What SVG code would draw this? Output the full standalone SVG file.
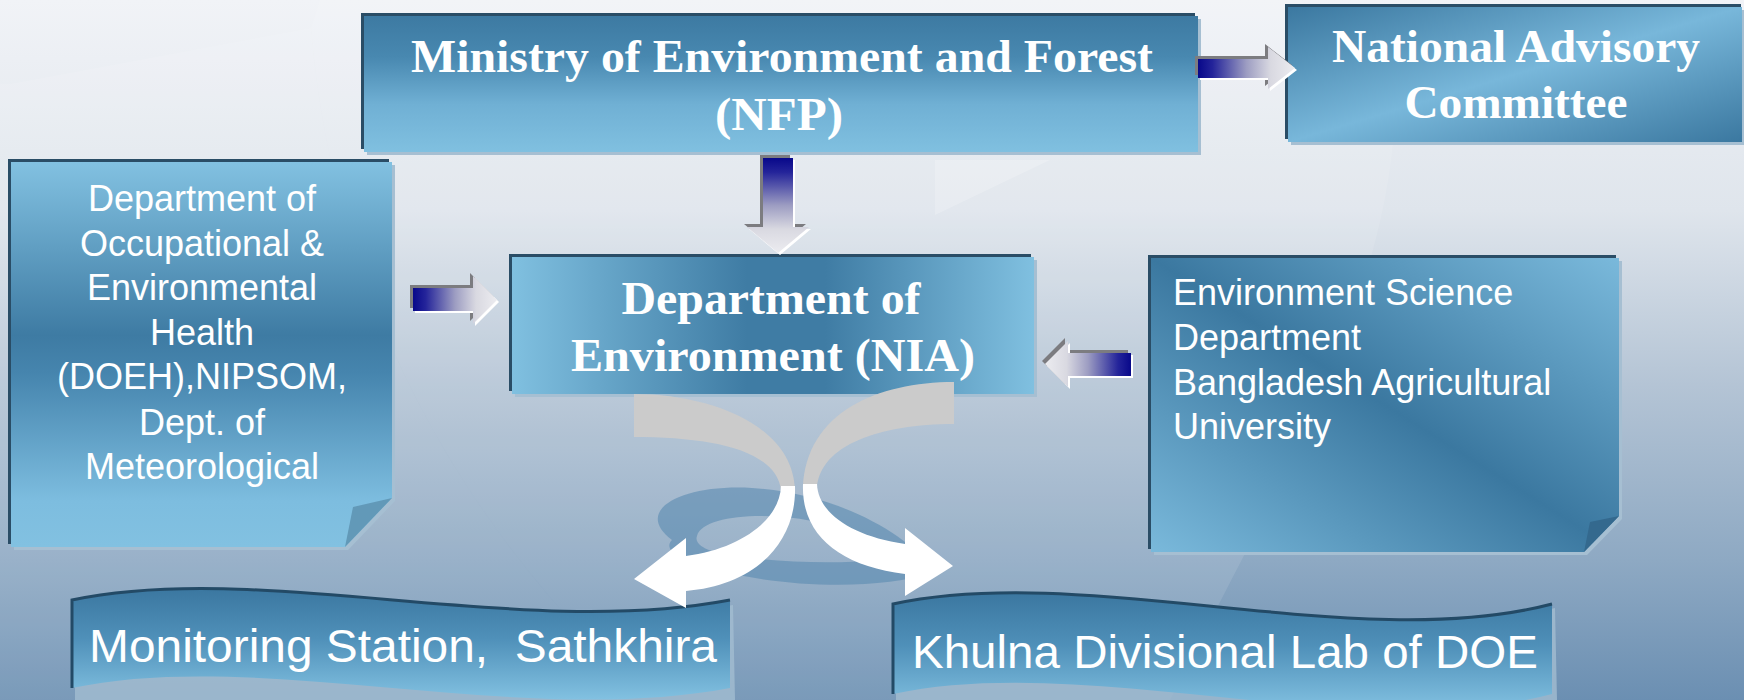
<svg xmlns="http://www.w3.org/2000/svg" width="1744" height="700" viewBox="0 0 1744 700">
<defs>
<style>
.serif{font-family:"Liberation Serif","Times New Roman",serif;font-weight:bold;font-size:46px;fill:#ffffff;text-anchor:middle}
.sans{font-family:"Liberation Sans",Arial,sans-serif;font-size:36px;fill:#ffffff}
.mid{text-anchor:middle}
.big{font-size:47px;white-space:pre}
.shD{fill:#2a4d66}
.shL{fill:#a6bfd2}
.arrD{fill:#7c7c80}
.arrL{fill:#ffffff}
.curveBack{fill:#cbcbcb}
.curveFront{fill:#ffffff}
</style>
<linearGradient id="bg" x1="0" y1="0" x2="0" y2="1">
<stop offset="0" stop-color="#f1f3f7"/>
<stop offset="0.3" stop-color="#dfe5ec"/>
<stop offset="0.55" stop-color="#b4c4d5"/>
<stop offset="0.8" stop-color="#8ea9c3"/>
<stop offset="1" stop-color="#6b8fb2"/>
</linearGradient>
<linearGradient id="gMin" x1="0" y1="0" x2="0" y2="1">
<stop offset="0" stop-color="#3d7aa2"/>
<stop offset="0.3" stop-color="#4888b0"/>
<stop offset="0.65" stop-color="#70b0d4"/>
<stop offset="1" stop-color="#80c0e0"/>
</linearGradient>
<linearGradient id="gNia" x1="0" y1="0" x2="1" y2="0">
<stop offset="0" stop-color="#80c0e0"/>
<stop offset="0.45" stop-color="#3f7ca4"/>
<stop offset="0.6" stop-color="#3f7ca4"/>
<stop offset="1" stop-color="#80c0e0"/>
</linearGradient>
<linearGradient id="gDoeh" x1="0" y1="0" x2="0" y2="1">
<stop offset="0" stop-color="#82c1e1"/>
<stop offset="0.45" stop-color="#3e7ba3"/>
<stop offset="0.55" stop-color="#4685ae"/>
<stop offset="0.88" stop-color="#7dbddf"/>
<stop offset="1" stop-color="#82c1e1"/>
</linearGradient>
<linearGradient id="gNat" x1="0" y1="0" x2="1" y2="1">
<stop offset="0" stop-color="#3b78a0"/>
<stop offset="0.5" stop-color="#78b7da"/>
<stop offset="1" stop-color="#3b78a0"/>
</linearGradient>
<linearGradient id="gEnv" x1="1" y1="0" x2="0" y2="1">
<stop offset="0" stop-color="#7ab9db"/>
<stop offset="0.5" stop-color="#3b78a0"/>
<stop offset="1" stop-color="#7ab9db"/>
</linearGradient>
<linearGradient id="gBan" x1="0" y1="0" x2="0" y2="1">
<stop offset="0" stop-color="#3b77a0"/>
<stop offset="0.45" stop-color="#4f90b9"/>
<stop offset="1" stop-color="#82c1e1"/>
</linearGradient>
<linearGradient id="aR" x1="0" y1="0" x2="1" y2="0">
<stop offset="0" stop-color="#08088a"/>
<stop offset="0.15" stop-color="#24249a"/>
<stop offset="0.5" stop-color="#9d9dc2"/>
<stop offset="0.75" stop-color="#d9d9e1"/>
<stop offset="1" stop-color="#ececf0"/>
</linearGradient>
<linearGradient id="aL" x1="1" y1="0" x2="0" y2="0">
<stop offset="0" stop-color="#08088a"/>
<stop offset="0.15" stop-color="#24249a"/>
<stop offset="0.5" stop-color="#9d9dc2"/>
<stop offset="0.75" stop-color="#d9d9e1"/>
<stop offset="1" stop-color="#ececf0"/>
</linearGradient>
<linearGradient id="aD" x1="0" y1="0" x2="0" y2="1">
<stop offset="0" stop-color="#08088a"/>
<stop offset="0.15" stop-color="#24249a"/>
<stop offset="0.5" stop-color="#9d9dc2"/>
<stop offset="0.75" stop-color="#d9d9e1"/>
<stop offset="1" stop-color="#ececf0"/>
</linearGradient>
</defs>

<g id="background">
<rect x="0" y="0" width="1744" height="700" fill="url(#bg)"/>
<path d="M10,84 L311,28 C330,260 430,500 650,700 L0,700 L0,84 Z" fill="#ffffff" opacity="0.1"/>
<path d="M311,28 C330,260 430,500 650,700 L1170,700 C1270,500 1390,300 1395,110 C1380,80 1340,40 1300,0 L320,0 Z" fill="#ffffff" opacity="0.1"/>
<path d="M935,160 L1050,160 L935,215 Z" fill="#ffffff" opacity="0.2"/>
<path d="M672,540 C632,510 682,484 752,488 C832,493 905,530 935,572 C875,592 780,586 720,571 C680,561 662,550 672,540 Z M697,536 C702,516 762,511 812,521 C852,531 878,550 878,560 C828,565 770,561 730,556 C705,551 694,544 697,536 Z" fill="#5a8ab0" fill-rule="evenodd" opacity="0.6"/>
</g>

<g id="node-ministry">
<rect x="361" y="13" width="834" height="136" class="shD"/>
<rect x="367" y="19" width="834" height="136" class="shL"/>
<rect x="364" y="16" width="834" height="136" fill="url(#gMin)"/>
<text class="serif" x="782" y="72" textLength="742" lengthAdjust="spacingAndGlyphs">Ministry of Environment and Forest</text>
<text class="serif" x="779" y="130" textLength="128" lengthAdjust="spacingAndGlyphs">(NFP)</text>
</g>

<g id="node-national">
<rect x="1285" y="4" width="456" height="135" class="shD"/>
<rect x="1291" y="10" width="456" height="135" class="shL"/>
<rect x="1288" y="7" width="454" height="135" fill="url(#gNat)"/>
<text class="serif" x="1516" y="62" textLength="368" lengthAdjust="spacingAndGlyphs">National Advisory</text>
<text class="serif" x="1516" y="118" textLength="223" lengthAdjust="spacingAndGlyphs">Committee</text>
</g>

<g id="node-doeh">
<polygon points="8,159 389,159 389,495 342,544 8,544" class="shD"/>
<polygon points="14,165 395,165 395,501 348,550 14,550" class="shL"/>
<polygon points="11,162 392,162 392,498 345,547 11,547" fill="url(#gDoeh)"/>
<polygon points="392,498 353,507 345,547" fill="#6299b8"/>
<text class="sans mid" x="202" y="211">Department of</text>
<text class="sans mid" x="202" y="256">Occupational &amp;</text>
<text class="sans mid" x="202" y="300">Environmental</text>
<text class="sans mid" x="202" y="345">Health</text>
<text class="sans mid" x="202" y="389">(DOEH),NIPSOM,</text>
<text class="sans mid" x="202" y="435">Dept. of</text>
<text class="sans mid" x="202" y="479">Meteorological</text>
</g>

<g id="node-nia">
<rect x="509" y="254" width="522" height="137" class="shD"/>
<rect x="515" y="260" width="522" height="137" class="shL"/>
<rect x="512" y="257" width="522" height="137" fill="url(#gNia)"/>
<text class="serif" x="771" y="314" textLength="299" lengthAdjust="spacingAndGlyphs">Department of</text>
<text class="serif" x="773" y="371" textLength="404" lengthAdjust="spacingAndGlyphs">Environment (NIA)</text>
</g>

<g id="node-envsci">
<polygon points="1148,255 1616,255 1616,513 1581,549 1148,549" class="shD"/>
<polygon points="1154,261 1622,261 1622,519 1587,555 1154,555" class="shL"/>
<polygon points="1151,258 1619,258 1619,516 1584,552 1151,552" fill="url(#gEnv)"/>
<polygon points="1619,516 1590,522 1584,552" fill="#34698e"/>
<text class="sans" x="1173" y="305">Environment Science</text>
<text class="sans" x="1173" y="350">Department</text>
<text class="sans" x="1173" y="395">Bangladesh Agricultural</text>
<text class="sans" x="1173" y="439">University</text>
</g>

<g id="node-monitoring">
<path d="M75,605 C263,565 523,645 733,605 L735,700 L75,700 Z" fill="#a3bdd1" opacity="0.8"/>
<path d="M72,600 C260,560 520,640 730,600 L730,688 C520,728 260,648 72,688 Z" fill="url(#gBan)"/>
<path d="M72,688 L72,600 C260,560 520,640 730,600" fill="none" stroke="#234a66" stroke-width="3"/>
<text class="sans big" x="89" y="662" textLength="628" lengthAdjust="spacingAndGlyphs" xml:space="preserve">Monitoring Station,  Sathkhira</text>
</g>

<g id="node-khulna">
<path d="M896,608 C1091,566 1361,659 1555,608 L1557,700 L896,700 Z" fill="#a3bdd1" opacity="0.8"/>
<path d="M893,604 C1088,562 1358,655 1552,604 L1552,694 C1358,745 1088,652 893,694 Z" fill="url(#gBan)"/>
<path d="M893,694 L893,604 C1088,562 1358,655 1552,604" fill="none" stroke="#234a66" stroke-width="3"/>
<text class="sans big" x="912" y="668" textLength="626" lengthAdjust="spacingAndGlyphs">Khulna Divisional Lab of DOE</text>
</g>

<g id="connectors">
<g id="arrow-ministry-national">
<polygon transform="translate(-3,-3)" class="arrD" points="1198,59 1268,59 1268,47 1295,68 1268,89 1268,78 1198,78"/>
<polygon transform="translate(2,2)" class="arrL" points="1198,59 1268,59 1268,47 1295,68 1268,89 1268,78 1198,78"/>
<polygon fill="url(#aR)" points="1198,59 1268,59 1268,47 1295,68 1268,89 1268,78 1198,78"/>
</g>
<g id="arrow-ministry-nia">
<polygon transform="translate(-3,-3)" class="arrD" points="763,158 793,158 793,227 809,227 778,253 747,227 763,227"/>
<polygon transform="translate(2,2)" class="arrL" points="763,158 793,158 793,227 809,227 778,253 747,227 763,227"/>
<polygon fill="url(#aD)" points="763,158 793,158 793,227 809,227 778,253 747,227 763,227"/>
</g>
<g id="arrow-doeh-nia">
<polygon transform="translate(-3,-3)" class="arrD" points="413,288 473,288 473,276 497,300 473,324 473,311 413,311"/>
<polygon transform="translate(2,2)" class="arrL" points="413,288 473,288 473,276 497,300 473,324 473,311 413,311"/>
<polygon fill="url(#aR)" points="413,288 473,288 473,276 497,300 473,324 473,311 413,311"/>
</g>
<g id="arrow-envsci-nia">
<polygon transform="translate(-3,-3)" class="arrD" points="1131,353 1068,353 1068,341 1045,364 1068,387 1068,376 1131,376"/>
<polygon transform="translate(2,2)" class="arrL" points="1131,353 1068,353 1068,341 1045,364 1068,387 1068,376 1131,376"/>
<polygon fill="url(#aL)" points="1131,353 1068,353 1068,341 1045,364 1068,387 1068,376 1131,376"/>
</g>
<g id="arrow-nia-monitoring">
<path class="curveBack" d="M634,394 C710,394 793,425 795,490 L781,490 C776,450 712,437 634,437 Z"/>
<path class="curveFront" d="M795,486 C797,545 752,586 686,591 L686,608 L634,579 L686,538 L686,556 C740,549 780,520 781,486 Z"/>
</g>
<g id="arrow-nia-khulna">
<path class="curveBack" d="M954,382 C878,382 806,412 803,488 L817,488 C820,445 880,424 954,424 Z"/>
<path class="curveFront" d="M803,484 C801,535 840,566 905,574 L905,596 L953,566 L905,528 L905,544 C850,536 818,512 817,484 Z"/>
</g>
</g>
</svg>
